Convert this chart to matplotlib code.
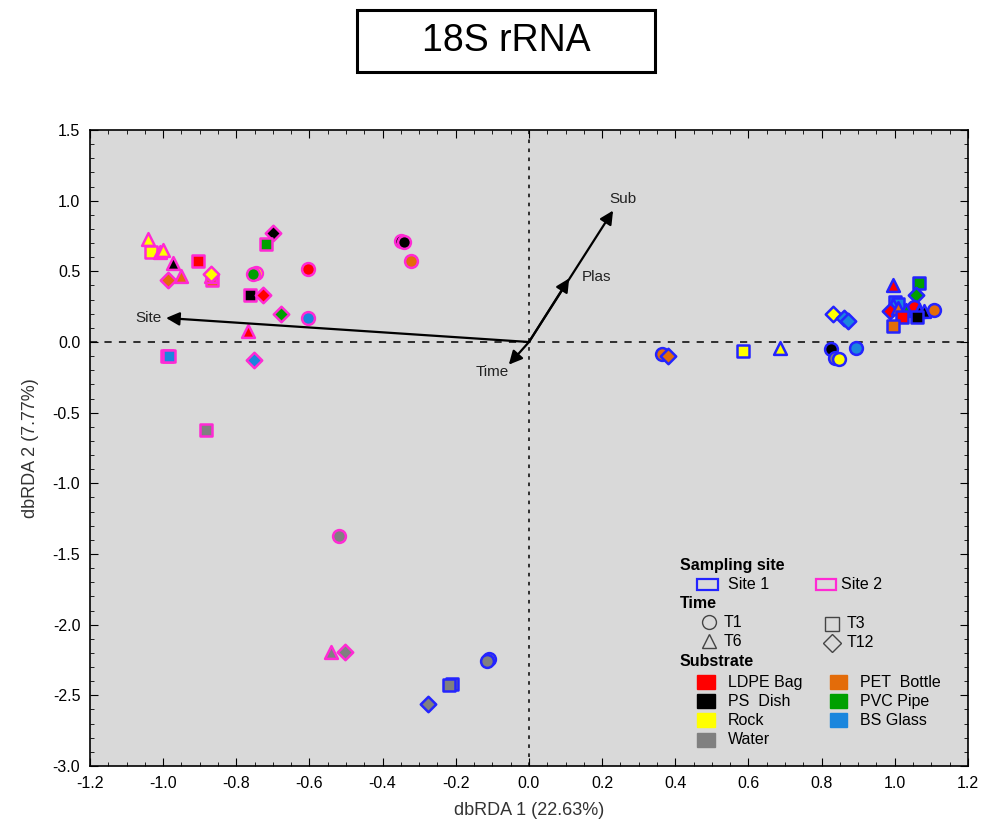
import matplotlib.pyplot as plt
from matplotlib.patches import Rectangle
from matplotlib.ticker import MultipleLocator, FormatStrFormatter

plt.rcParams['font.family'] = ['Liberation Sans', 'DejaVu Sans']
plt.rcParams['axes.unicode_minus'] = False

# substrate fill colours
sub_colors = {
    'LDPE Bag': '#ff0000',
    'PS  Dish': '#000000',
    'Rock': '#ffff00',
    'Water': '#808080',
    'PET  Bottle': '#e36c0a',
    'PVC Pipe': '#00a000',
    'BS Glass': '#1a86dd',
}
time_markers = {'T1': 'o', 'T3': 's', 'T6': '^', 'T12': 'D'}
site_edges = {'Site 1': '#2424ff', 'Site 2': '#ff2ad4'}

# samples from site 2
site2_x = [-1.041, -1.033, -1.008, -1.000, -0.973, -0.904, -0.986, -0.951,
           -0.866, -0.870, -0.868, -0.699, -0.718, -0.745, -0.753, -0.603,
           -0.762, -0.726, -0.679, -0.603, -0.767, -0.351, -0.342, -0.323,
           -0.989, -0.983, -0.751, -0.882, -0.518, -0.540, -0.504]
site2_y = [0.73, 0.64, 0.64, 0.65, 0.56, 0.57, 0.44, 0.47,
           0.44, 0.47, 0.48, 0.77, 0.69, 0.49, 0.48, 0.52,
           0.33, 0.33, 0.20, 0.17, 0.08, 0.715, 0.71, 0.57,
           -0.10, -0.10, -0.13, -0.62, -1.37, -2.19, -2.19]
site2_time = ['T6', 'T3', 'T6', 'T6', 'T6', 'T3', 'T12', 'T6',
              'T3', 'T6', 'T12', 'T12', 'T3', 'T1', 'T1', 'T1',
              'T3', 'T12', 'T12', 'T1', 'T6', 'T1', 'T1', 'T1',
              'T3', 'T3', 'T12', 'T3', 'T1', 'T6', 'T12']
site2_sub = ['Rock', 'Rock', 'Rock', 'Rock', 'PS  Dish', 'LDPE Bag', 'PET  Bottle', 'PET  Bottle',
             'PET  Bottle', 'PET  Bottle', 'Rock', 'PS  Dish', 'PVC Pipe', 'Rock', 'PVC Pipe', 'LDPE Bag',
             'PS  Dish', 'LDPE Bag', 'PVC Pipe', 'BS Glass', 'LDPE Bag', 'PS  Dish', 'PS  Dish', 'PET  Bottle',
             'BS Glass', 'BS Glass', 'BS Glass', 'Water', 'Water', 'Water', 'Water']

# samples from site 1
site1_x = [-0.110, -0.114, -0.211, -0.218, -0.277, 0.364, 0.381, 0.586,
           0.687, 0.825, 0.838, 0.847, 0.893, 0.830, 0.860, 0.871,
           0.995, 1.066, 1.058, 1.000, 1.010, 0.995, 1.052, 0.986,
           1.008, 1.030, 1.066, 1.080, 1.060, 1.019, 1.107, 0.995]
site1_y = [-2.24, -2.26, -2.42, -2.43, -2.56, -0.085, -0.10, -0.064,
           -0.04, -0.05, -0.11, -0.12, -0.04, 0.20, 0.17, 0.15,
           0.40, 0.42, 0.33, 0.28, 0.27, 0.26, 0.25, 0.22,
           0.24, 0.23, 0.22, 0.22, 0.18, 0.18, 0.23, 0.11]
site1_time = ['T1', 'T1', 'T3', 'T3', 'T12', 'T1', 'T12', 'T3',
              'T6', 'T1', 'T1', 'T1', 'T1', 'T12', 'T12', 'T12',
              'T6', 'T3', 'T12', 'T3', 'T3', 'T6', 'T1', 'T12',
              'T6', 'T6', 'T6', 'T6', 'T3', 'T3', 'T1', 'T3']
site1_sub = ['Water', 'Water', 'Water', 'Water', 'Water', 'PET  Bottle', 'PET  Bottle', 'Rock',
             'Rock', 'PS  Dish', 'Water', 'Rock', 'BS Glass', 'Rock', 'BS Glass', 'BS Glass',
             'LDPE Bag', 'PVC Pipe', 'PVC Pipe', 'BS Glass', 'BS Glass', 'BS Glass', 'LDPE Bag', 'LDPE Bag',
             'PET  Bottle', 'PVC Pipe', 'PS  Dish', 'PS  Dish', 'PS  Dish', 'LDPE Bag', 'PET  Bottle', 'PET  Bottle']

# biplot vectors (tip coordinates) and label positions
vec_names = ['Site', 'Sub', 'Plas', 'Time']
vec_x = [-0.992, 0.230, 0.110, -0.055]
vec_y = [0.17, 0.93, 0.45, -0.16]
lab_x = [-1.04, 0.258, 0.185, -0.10]
lab_y = [0.17, 1.01, 0.46, -0.21]

fig = plt.figure(figsize=(9.92, 8.35), dpi=100)
ax = fig.add_axes([0.0907, 0.0826, 0.885, 0.7617])
ax.set_facecolor('#d9d9d9')

ax.axhline(0, color='#222222', lw=1.3, ls=(0, (4, 4)), zorder=1)
ax.axvline(0, color='#222222', lw=1.3, ls=(0, (2, 3)), zorder=1)

for xs, ys, ts, ss, site in [(site2_x, site2_y, site2_time, site2_sub, 'Site 2'),
                             (site1_x, site1_y, site1_time, site1_sub, 'Site 1')]:
    for x, y, t, s in zip(xs, ys, ts, ss):
        size = 62 if t == 'T12' else 85
        ax.scatter(x, y, marker=time_markers[t], s=size, c=sub_colors[s],
                   edgecolors=site_edges[site], linewidths=1.8, zorder=3)

# environmental vectors
for name, vx, vy, lx, ly in zip(vec_names, vec_x, vec_y, lab_x, lab_y):
    ax.annotate('', xy=(vx, vy), xytext=(0, 0),
                arrowprops=dict(arrowstyle='-|>', color='black', lw=1.6,
                                mutation_scale=20, shrinkA=0, shrinkB=0), zorder=4)
    ax.text(lx, ly, name, fontsize=11, ha='center', va='center', color='#222222', zorder=5)

ax.set_xlim(-1.2, 1.2)
ax.set_ylim(-3.0, 1.5)
ax.xaxis.set_major_locator(MultipleLocator(0.2))
ax.xaxis.set_minor_locator(MultipleLocator(0.05))
ax.yaxis.set_major_locator(MultipleLocator(0.5))
ax.yaxis.set_minor_locator(MultipleLocator(0.1))
ax.xaxis.set_major_formatter(FormatStrFormatter('%.1f'))
ax.yaxis.set_major_formatter(FormatStrFormatter('%.1f'))
ax.tick_params(which='both', direction='in', top=True, right=True, labelsize=11.5)
ax.tick_params(which='major', length=6, pad=7)
ax.tick_params(which='minor', length=3)
for sp in ax.spines.values():
    sp.set_linewidth(1.2)

ax.set_xlabel('dbRDA 1 (22.63%)', fontsize=13, color='#333333', labelpad=8)
ax.set_ylabel('dbRDA 2 (7.77%)', fontsize=13, color='#333333', labelpad=10)

# legend block built by hand
tr = ax.transAxes
lfs = 11.5
ax.text(0.672, 0.316, 'Sampling site', transform=tr, fontsize=lfs, fontweight='bold', va='center')
ax.add_patch(Rectangle((0.692, 0.277), 0.0228, 0.0173, transform=tr, fill=False,
                       edgecolor=site_edges['Site 1'], lw=1.6))
ax.text(0.727, 0.286, 'Site 1', transform=tr, fontsize=lfs, va='center')
ax.add_patch(Rectangle((0.827, 0.277), 0.0228, 0.0173, transform=tr, fill=False,
                       edgecolor=site_edges['Site 2'], lw=1.6))
ax.text(0.856, 0.286, 'Site 2', transform=tr, fontsize=lfs, va='center')

ax.text(0.672, 0.256, 'Time', transform=tr, fontsize=lfs, fontweight='bold', va='center')
time_pos = {'T1': (0.705, 0.226), 'T3': (0.845, 0.224), 'T6': (0.705, 0.196), 'T12': (0.845, 0.194)}
for t, (px, py) in time_pos.items():
    ax.plot(px, py, marker=time_markers[t], ms=10 if t != 'T12' else 9, mfc='none',
            mec='#444444', mew=1.0, transform=tr, clip_on=False)
    ax.text(px + 0.017, py, t, transform=tr, fontsize=lfs, va='center')

ax.text(0.672, 0.164, 'Substrate', transform=tr, fontsize=lfs, fontweight='bold', va='center')
left_subs = ['LDPE Bag', 'PS  Dish', 'Rock', 'Water']
right_subs = ['PET  Bottle', 'PVC Pipe', 'BS Glass']
rows = [0.132, 0.102, 0.072, 0.041]
for name, ry in zip(left_subs, rows):
    ax.add_patch(Rectangle((0.692, ry - 0.011), 0.0194, 0.022, transform=tr,
                           color=sub_colors[name]))
    ax.text(0.727, ry, name, transform=tr, fontsize=lfs, va='center')
for name, ry in zip(right_subs, rows):
    ax.add_patch(Rectangle((0.843, ry - 0.011), 0.0194, 0.022, transform=tr,
                           color=sub_colors[name]))
    ax.text(0.877, ry, name, transform=tr, fontsize=lfs, va='center')

# boxed title
fig.patches.append(Rectangle((0.360, 0.9138), 0.3004, 0.0743, transform=fig.transFigure,
                             fill=False, edgecolor='black', lw=2.2))
fig.text(0.510, 0.9505, '18S rRNA', fontsize=27, ha='center', va='center',
         family=['Liberation Sans Narrow', 'Liberation Sans'])

fig.savefig('out.png', dpi=100)
